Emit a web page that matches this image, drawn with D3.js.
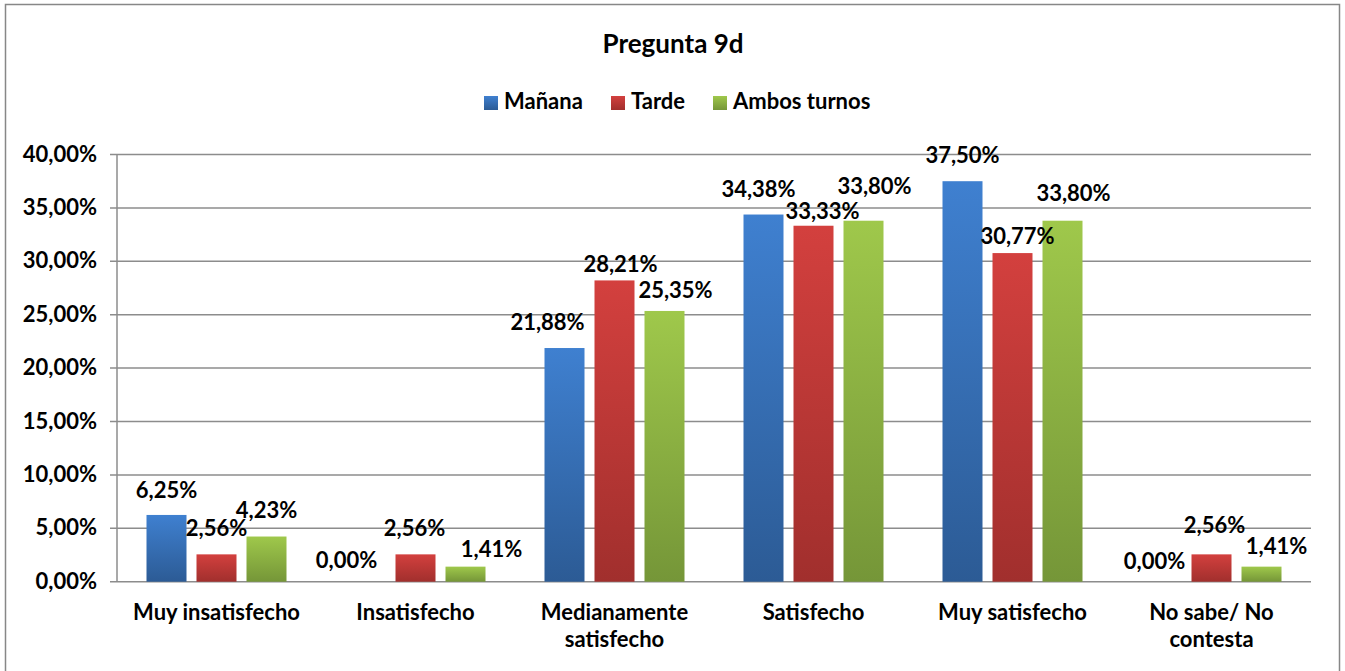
<!DOCTYPE html>
<html>
<head>
<meta charset="utf-8">
<script src="https://cdn.jsdelivr.net/npm/d3@7"></script>
<style>
  body { margin: 0; background: #fff; }
  svg text { font-family: Lato, "Open Sans", sans-serif; font-weight: bold; fill: #000; }
</style>
</head>
<body>
<script>
var categories = ['Muy insatisfecho', 'Insatisfecho', 'Medianamente satisfecho', 'Satisfecho', 'Muy satisfecho', 'No sabe/ No contesta'];
var categoryLines = [['Muy insatisfecho'], ['Insatisfecho'], ['Medianamente', 'satisfecho'], ['Satisfecho'], ['Muy satisfecho'], ['No sabe/ No', 'contesta']];
var seriesNames = ['Mañana', 'Tarde', 'Ambos turnos'];
var manana = [6.25, 0.00, 21.88, 34.38, 37.50, 0.00];
var tarde = [2.56, 2.56, 28.21, 33.33, 30.77, 2.56];
var ambos = [4.23, 1.41, 25.35, 33.80, 33.80, 1.41];
var yTicks = [0, 5, 10, 15, 20, 25, 30, 35, 40];

// hand-placed data labels in the original: horizontal nudge and gap above bar (px)
var labelDx = [[0, -19, -17, -5, 0, -7], [0, -1, 6, 9, 5, 3], [0, 26, 11, 11, 11, 15]];
var labelGap = [[17, 14, 18, 18, 18, 13], [18, 18, 8, 7, 9, 21], [19, 10, 13, 27, 20, 13]];

var seriesValues = [manana, tarde, ambos];
var gradients = [['#3f80d0', '#2c5b95'], ['#d3403e', '#a12f2d'], ['#9fc84b', '#759638']];

var width = 1345,
    height = 671;

var svg = d3.select('body').append('svg')
    .attr('width', width)
    .attr('height', height);

var defs = svg.append('defs');
gradients.forEach(function (g, i) {
    var lg = defs.append('linearGradient')
        .attr('id', 'grad' + i)
        .attr('x1', 0).attr('y1', 0).attr('x2', 0).attr('y2', 1);
    lg.append('stop').attr('offset', '0%').attr('stop-color', g[0]);
    lg.append('stop').attr('offset', '100%').attr('stop-color', g[1]);
});

// outer border
svg.append('rect')
    .attr('x', 5.5).attr('y', 4.5)
    .attr('width', 1334).attr('height', 670)
    .attr('fill', 'none')
    .attr('stroke', '#878787')
    .attr('stroke-width', 1.5);

var plotLeft = 117, plotRight = 1311, plotTop = 154.5, plotBottom = 581.7;

var y = d3.scaleLinear().domain([0, 40]).range([plotBottom, plotTop]);

var x0 = d3.scaleBand()
    .domain(categories)
    .range([plotLeft, plotRight])
    .paddingInner(59 / 199)
    .paddingOuter(59 / 398);

var x1 = d3.scaleBand()
    .domain(seriesNames)
    .range([0, x0.bandwidth()])
    .paddingInner(0.2);

var fmt = function (v) { return d3.format('.2f')(v).replace('.', ',') + '%'; };

// gridlines + ticks
svg.append('g').selectAll('line').data(yTicks).enter().append('line')
    .attr('x1', plotLeft - 7).attr('x2', plotRight)
    .attr('y1', function (d) { return y(d); })
    .attr('y2', function (d) { return y(d); })
    .attr('stroke', '#8c8c8c')
    .attr('stroke-width', 1.5);

svg.append('line')
    .attr('x1', plotLeft).attr('x2', plotLeft)
    .attr('y1', plotTop).attr('y2', plotBottom)
    .attr('stroke', '#8c8c8c')
    .attr('stroke-width', 1.5);

svg.append('g').selectAll('text').data(yTicks).enter().append('text')
    .attr('x', 97)
    .attr('y', function (d) { return y(d) + 7; })
    .attr('text-anchor', 'end')
    .style('font-size', '22px')
    .text(fmt);

// bars
var groups = svg.append('g').selectAll('g').data(categories).enter().append('g')
    .attr('transform', function (d) { return 'translate(' + x0(d) + ',0)'; });

function rows(d, i) {
    return seriesNames.map(function (s, j) { return { s: s, j: j, i: i, v: seriesValues[j][i] }; });
}

groups.selectAll('rect')
    .data(rows)
    .enter().append('rect')
    .attr('x', function (d) { return x1(d.s); })
    .attr('y', function (d) { return y(d.v); })
    .attr('width', x1.bandwidth())
    .attr('height', function (d) { return plotBottom - y(d.v); })
    .attr('fill', function (d) { return 'url(#grad' + d.j + ')'; });

groups.selectAll('text.val')
    .data(rows)
    .enter().append('text')
    .attr('class', 'val')
    .attr('x', function (d) { return x1(d.s) + x1.bandwidth() / 2 + labelDx[d.j][d.i]; })
    .attr('y', function (d) { return y(d.v) - labelGap[d.j][d.i]; })
    .attr('text-anchor', 'middle')
    .style('font-size', '22px')
    .text(function (d) { return fmt(d.v); });

// category labels
groups.append('text')
    .attr('text-anchor', 'middle')
    .style('font-size', '22px')
    .each(function (d, i) {
        var t = d3.select(this);
        categoryLines[i].forEach(function (line, k) {
            t.append('tspan')
                .attr('x', x0.bandwidth() / 2)
                .attr('y', 620 + k * 27)
                .text(line);
        });
    });

// title
svg.append('text')
    .attr('x', 673).attr('y', 53)
    .attr('text-anchor', 'middle')
    .style('font-size', '26px')
    .text('Pregunta 9d');

// legend
var legendX = [484, 611, 713];
var legend = svg.append('g').selectAll('g').data(seriesNames).enter().append('g')
    .attr('transform', function (d, i) { return 'translate(' + legendX[i] + ',96)'; });
legend.append('rect')
    .attr('width', 14).attr('height', 14)
    .attr('fill', function (d, i) { return 'url(#grad' + i + ')'; });
legend.append('text')
    .attr('x', 20).attr('y', 13)
    .style('font-size', '22px')
    .text(function (d) { return d; });
</script>
</body>
</html>
